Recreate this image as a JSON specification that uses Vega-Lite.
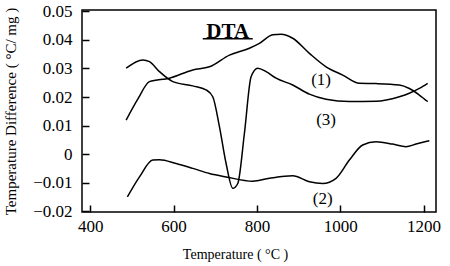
{
  "$schema": "https://vega.github.io/schema/vega-lite/v6.json",
  "width": 354,
  "height": 202,
  "autosize": {"type": "none"},
  "padding": {"left": 82, "top": 10, "right": 14, "bottom": 54},
  "background": "white",
  "config": {
    "view": {"stroke": "black", "strokeWidth": 1.5, "fill": null},
    "font": "Liberation Serif",
    "axis": {"grid": false, "domain": false, "ticks": true, "tickColor": "black", "tickWidth": 1.5, "labelColor": "black", "titleColor": "black", "labelFont": "Liberation Serif", "titleFont": "Liberation Serif", "titleFontWeight": "normal", "labelOverlap": false, "zindex": 1}
  },
  "datasets": {
    "curves": [
      {"s": "1", "t": 486, "v": 0.0119},
      {"s": "1", "t": 515, "v": 0.0195},
      {"s": "1", "t": 542, "v": 0.0254},
      {"s": "1", "t": 590, "v": 0.0266},
      {"s": "1", "t": 646, "v": 0.0295},
      {"s": "1", "t": 686, "v": 0.0306},
      {"s": "1", "t": 734, "v": 0.0347},
      {"s": "1", "t": 782, "v": 0.0371},
      {"s": "1", "t": 806, "v": 0.0388},
      {"s": "1", "t": 838, "v": 0.0418},
      {"s": "1", "t": 858, "v": 0.0420},
      {"s": "1", "t": 886, "v": 0.0406},
      {"s": "1", "t": 926, "v": 0.0353},
      {"s": "1", "t": 966, "v": 0.0306},
      {"s": "1", "t": 1006, "v": 0.0277},
      {"s": "1", "t": 1046, "v": 0.0248},
      {"s": "1", "t": 1086, "v": 0.0247},
      {"s": "1", "t": 1142, "v": 0.0242},
      {"s": "1", "t": 1166, "v": 0.0230},
      {"s": "1", "t": 1190, "v": 0.0207},
      {"s": "1", "t": 1210, "v": 0.0184},
      {"s": "3", "t": 486, "v": 0.0301},
      {"s": "3", "t": 526, "v": 0.0330},
      {"s": "3", "t": 542, "v": 0.0324},
      {"s": "3", "t": 566, "v": 0.0289},
      {"s": "3", "t": 598, "v": 0.0254},
      {"s": "3", "t": 646, "v": 0.0239},
      {"s": "3", "t": 678, "v": 0.0225},
      {"s": "3", "t": 694, "v": 0.0201},
      {"s": "3", "t": 710, "v": 0.0096},
      {"s": "3", "t": 726, "v": -0.0033},
      {"s": "3", "t": 742, "v": -0.0120},
      {"s": "3", "t": 754, "v": -0.0103},
      {"s": "3", "t": 770, "v": 0.0073},
      {"s": "3", "t": 786, "v": 0.0271},
      {"s": "3", "t": 802, "v": 0.0301},
      {"s": "3", "t": 822, "v": 0.0289},
      {"s": "3", "t": 846, "v": 0.0266},
      {"s": "3", "t": 886, "v": 0.0242},
      {"s": "3", "t": 926, "v": 0.0210},
      {"s": "3", "t": 966, "v": 0.0192},
      {"s": "3", "t": 1022, "v": 0.0184},
      {"s": "3", "t": 1086, "v": 0.0185},
      {"s": "3", "t": 1142, "v": 0.0201},
      {"s": "3", "t": 1166, "v": 0.0213},
      {"s": "3", "t": 1190, "v": 0.0230},
      {"s": "3", "t": 1210, "v": 0.0248},
      {"s": "2", "t": 489, "v": -0.0150},
      {"s": "2", "t": 518, "v": -0.0080},
      {"s": "2", "t": 550, "v": -0.0021},
      {"s": "2", "t": 566, "v": -0.0020},
      {"s": "2", "t": 606, "v": -0.0033},
      {"s": "2", "t": 646, "v": -0.0050},
      {"s": "2", "t": 686, "v": -0.0068},
      {"s": "2", "t": 726, "v": -0.0080},
      {"s": "2", "t": 790, "v": -0.0095},
      {"s": "2", "t": 830, "v": -0.0085},
      {"s": "2", "t": 886, "v": -0.0076},
      {"s": "2", "t": 926, "v": -0.0097},
      {"s": "2", "t": 958, "v": -0.0103},
      {"s": "2", "t": 990, "v": -0.0085},
      {"s": "2", "t": 1022, "v": -0.0021},
      {"s": "2", "t": 1054, "v": 0.0032},
      {"s": "2", "t": 1086, "v": 0.0043},
      {"s": "2", "t": 1126, "v": 0.0035},
      {"s": "2", "t": 1158, "v": 0.0026},
      {"s": "2", "t": 1182, "v": 0.0035},
      {"s": "2", "t": 1214, "v": 0.0047}
    ],
    "labels": [
      {"label": "(1)", "t": 954, "v": 0.0260},
      {"label": "(3)", "t": 966, "v": 0.0119},
      {"label": "(2)", "t": 958, "v": -0.0156}
    ],
    "title": [
      {"label": "DTA", "t": 730, "v": 0.0429}
    ],
    "underline": [
      {"t": 670, "t2": 790, "v": 0.0404}
    ]
  },
  "encoding": {
    "x": {"field": "t", "type": "quantitative", "scale": {"domain": [380, 1230], "nice": false, "zero": false},
      "axis": {"values": [400, 600, 800, 1000, 1200], "format": "d", "title": "Temperature ( °C )", "labelFontSize": 17, "titleFontSize": 14, "offset": -7, "tickSize": 7, "labelPadding": 6, "labelOverlap": false, "titleX": 153, "titleY": 53, "titleBaseline": "alphabetic", "titleAnchor": "middle", "titleAlign": "center"}},
    "y": {"field": "v", "type": "quantitative", "scale": {"domain": [-0.0203, 0.0505], "nice": false, "zero": false},
      "axis": {"values": [-0.02, -0.01, 0, 0.01, 0.02, 0.03, 0.04, 0.05], "tickCount": 8, "format": ".2~f", "title": "Temperature Difference ( °C/ mg )", "labelFontSize": 17, "titleFontSize": 15, "offset": -7, "tickSize": 7, "labelPadding": 10, "labelOverlap": false, "titleX": -79, "titleY": 101, "titleBaseline": "middle", "titleAnchor": "middle", "titleAlign": "center"}}
  },
  "layer": [
    {
      "data": {"name": "curves"},
      "mark": {"type": "line", "color": "black", "strokeWidth": 1.5, "interpolate": "monotone"},
      "encoding": {
        "detail": {"field": "s"}
      }
    },
    {
      "data": {"name": "labels"},
      "mark": {"type": "text", "fontSize": 17, "color": "black", "font": "Liberation Serif"},
      "encoding": {
        "text": {"field": "label"}
      }
    },
    {
      "data": {"name": "title"},
      "mark": {"type": "text", "fontSize": 21, "fontWeight": "bold", "color": "black", "font": "Liberation Serif"},
      "encoding": {
        "text": {"field": "label"}
      }
    },
    {
      "data": {"name": "underline"},
      "mark": {"type": "rule", "color": "black", "strokeWidth": 1.5},
      "encoding": {
        "x2": {"field": "t2"}
      }
    }
  ]
}
